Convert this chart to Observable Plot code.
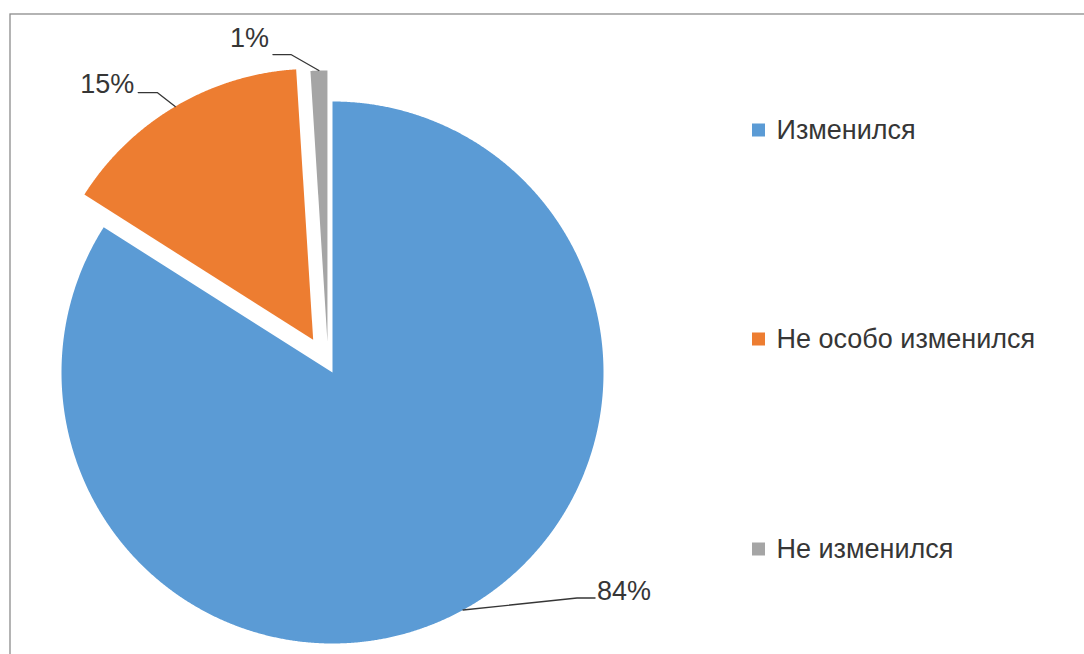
<!DOCTYPE html>
<html><head><meta charset="utf-8">
<script src="https://cdn.jsdelivr.net/npm/d3@7"></script>
<script src="https://cdn.jsdelivr.net/npm/@observablehq/plot@0.6"></script>
<style>html,body{margin:0;padding:0;background:#fff;overflow:hidden}</style>
</head><body><div id="chart"></div>
<script>
// ---- data ----
const categories = ["Изменился", "Не особо изменился", "Не изменился"];
const values = [84, 15, 1];
const colors = ["#5B9BD5", "#ED7D31", "#A5A5A5"];

// ---- layout (style constants) ----
const W = 1084, H = 654;
const cx = 332, cy = 372, R = 271;
const explode = [0, 38, 31.5];
const explodeTurn = [0, 0, -0.13]; // radians added to the bisector direction
// label leader layout per slice: elbow offset from arc point, horizontal run, text dy
const leader = [
  {ex: 114, ey: -12, run: 18, anchor: "start", tdy: -7},
  {ex: -18, ey: -14, run: -19, anchor: "end", tdy: -8},
  {ex: -28, ey: -16, run: -18, anchor: "end", tdy: -16}
];
const legendX = 752, legendBox = 13, legendTextX = 776;
const legendY = [130, 339, 549];
const fontFamily = "'Liberation Sans', Arial, sans-serif";
const fontSize = 27;
const textColor = "#363636";

const arcs = d3.pie().sort(null).value(d => d)(values);
const slices = arcs.map((a, i) => {
  const mid = (a.startAngle + a.endAngle) / 2;
  const dir = mid + explodeTurn[i];
  const ox = cx + explode[i] * Math.sin(dir), oy = cy - explode[i] * Math.cos(dir);
  const n = Math.max(4, Math.ceil((a.endAngle - a.startAngle) / 0.004));
  const pts = [{x: ox, y: oy}];
  for (let k = 0; k <= n; k++) {
    const t = a.startAngle + (a.endAngle - a.startAngle) * k / n;
    pts.push({x: ox + R * Math.sin(t), y: oy - R * Math.cos(t)});
  }
  pts.push({x: ox, y: oy});
  const ax = ox + R * Math.sin(mid), ay = oy - R * Math.cos(mid);
  const L = leader[i];
  const bx = ax + L.ex, by = ay + L.ey;
  const tx = bx + L.run, ty = by;
  return {
    pts, color: colors[i],
    leaderPts: [{x: ax, y: ay}, {x: bx, y: by}, {x: tx, y: ty}],
    label: {x: tx + (L.run > 0 ? 2 : -4), y: ty + L.tdy, text: `${values[i]}%`},
    anchor: L.anchor
  };
});

const legendRows = categories.map((c, i) => ({
  name: c, color: colors[i],
  x1: legendX, x2: legendX + legendBox,
  y1: legendY[i] - legendBox / 2, y2: legendY[i] + legendBox / 2,
  y: legendY[i]
}));

const marks = [
  Plot.frame({stroke: "#8c8c8c", strokeWidth: 1.3, insetLeft: 9.5, insetTop: 13.5, insetRight: -20, insetBottom: -20}),
  ...slices.map(s => Plot.line(s.pts, {x: "x", y: "y", fill: s.color, stroke: "none", curve: "linear"})),
  ...slices.map(s => Plot.line(s.leaderPts, {x: "x", y: "y", stroke: textColor, strokeWidth: 1.3})),
  ...slices.map(s => Plot.text([s.label], {x: "x", y: "y", text: "text", textAnchor: s.anchor, fontSize, fill: textColor, fontFamily})),
  Plot.rect(legendRows, {x1: "x1", x2: "x2", y1: "y1", y2: "y2", fill: "color"}),
  Plot.text(legendRows, {x: legendTextX, y: "y", text: "name", textAnchor: "start", fontSize, fill: textColor, fontFamily})
];

const chart = Plot.plot({
  width: W, height: H,
  margin: 0,
  x: {type: "identity", axis: null},
  y: {type: "identity", axis: null},
  color: {type: "identity"},
  style: {background: "#fff", fontFamily, overflow: "hidden"},
  marks
});
document.getElementById("chart").appendChild(chart);
</script>
</body></html>
